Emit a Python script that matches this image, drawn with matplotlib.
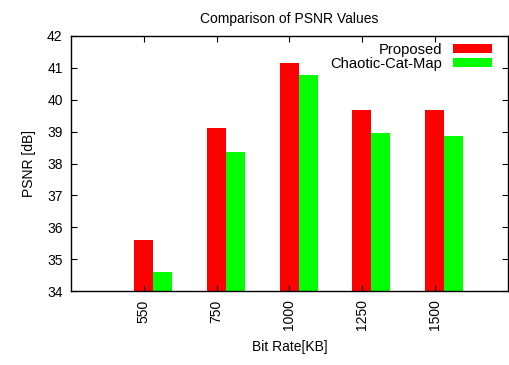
import numpy as np
import matplotlib.pyplot as plt

plt.rcParams['font.family'] = ['Liberation Sans', 'DejaVu Sans']

bit_rates = ["550", "750", "1000", "1250", "1500"]
proposed = [35.6, 39.12, 41.15, 39.68, 39.68]
cat_map = [34.6, 38.37, 40.78, 38.95, 38.85]

x = np.arange(len(bit_rates))
w = 0.26

fig = plt.figure(figsize=(5.09, 3.65), dpi=100)
ax = fig.add_axes([0.1395, 0.2027, 0.8585, 0.6987])
ax.bar(x - 0.005, proposed, w, color="#ff0000", label="Proposed")
ax.bar(x - 0.005 + w, cat_map, w, color="#00ff00", label="Chaotic-Cat-Map")

ax.set_xlim(-1, 5)
ax.set_ylim(34, 42)
ax.set_xticks(x)
ax.set_xticklabels(bit_rates, rotation=90)
ax.set_yticks(range(34, 43))
ax.tick_params(direction="in", top=True, right=True, labelsize=10, length=4, pad=6)
for s in ax.spines.values():
    s.set_linewidth(1.0)

ax.set_title("Comparison of PSNR Values", fontsize=10, pad=9)
ax.set_xlabel("Bit Rate[KB]", fontsize=10, labelpad=7)
ax.set_ylabel("PSNR [dB]", fontsize=10, labelpad=8)

ax.legend(loc="upper right", bbox_to_anchor=(0.978, 0.996), frameon=False,
          markerfirst=False, fontsize=10.6,
          handlelength=2.7, handleheight=0.6, labelspacing=-0.02,
          borderaxespad=0.0, handletextpad=0.7)

plt.savefig("out.png", dpi=100)
